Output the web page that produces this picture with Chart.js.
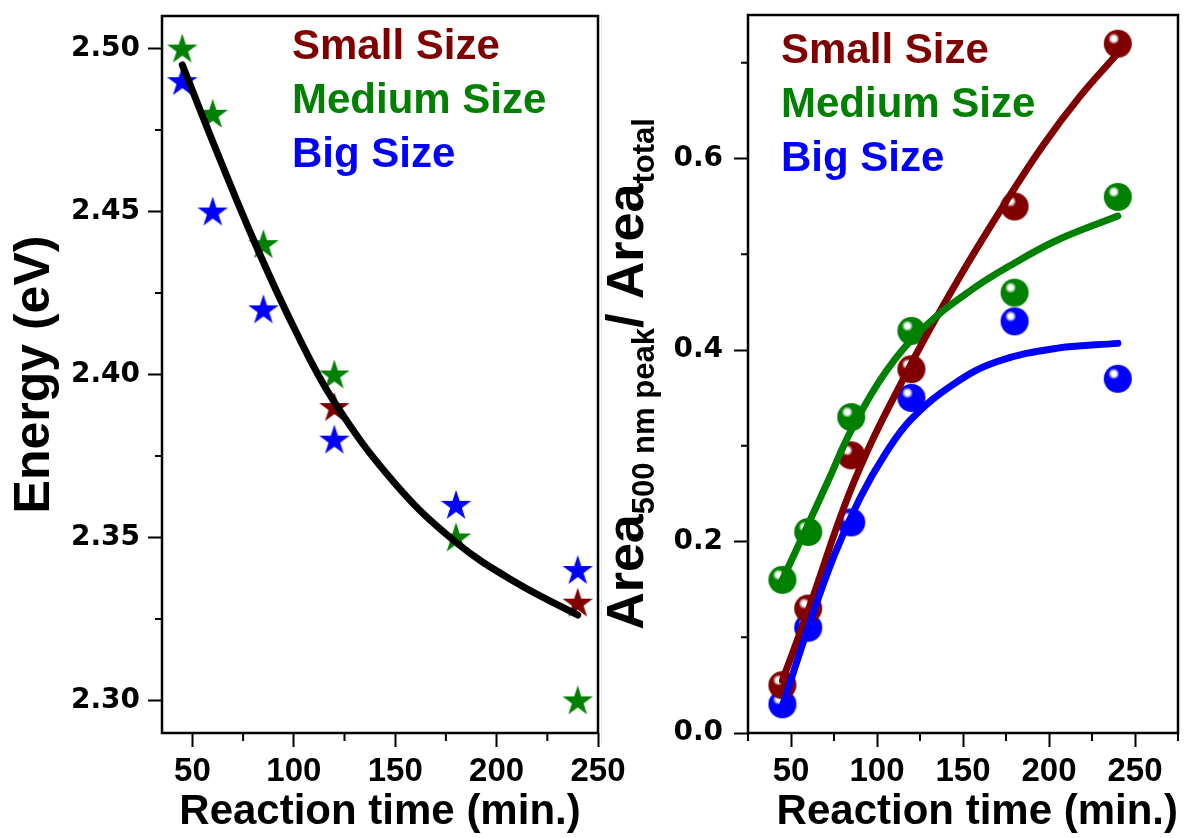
<!DOCTYPE html>
<html>
<head>
<meta charset="utf-8">
<script src="https://cdn.jsdelivr.net/npm/chart.js@4.4.1/dist/chart.umd.min.js"></script>
<style>
  html, body { margin: 0; padding: 0; background: #fff; }
  #wrap { position: relative; width: 1193px; height: 838px; overflow: hidden; background: #fff; }
  canvas { position: absolute; top: 0; }
  #graficoEnergia { left: 0; }
  #graficoArea { left: 600px; }
  #borde { position: absolute; left: 601px; top: 15px; width: 1px; height: 730px; background: #e4e4e4; }
</style>
</head>
<body>
<div id="wrap">
  <div id="borde"></div>
  <canvas id="graficoEnergia" width="640" height="838"></canvas>
  <canvas id="graficoArea" width="593" height="838"></canvas>
</div>
<script>
// tiempos de reaccion (min.)
const tiempos = [45, 60, 85, 120, 180, 240];
const nombresSeries = ["Small Size", "Medium Size", "Big Size"];
const colores = ["#800000", "#008000", "#0000ff"];

// panel izquierdo: energia (eV)
const energiaSmallX = [120, 240];
const energiaSmall = [2.39, 2.33];
const energiaMedium = [2.50, 2.48, 2.44, 2.40, 2.35, 2.30];
const energiaBig = [2.49, 2.45, 2.42, 2.38, 2.36, 2.34];
const ajusteEnergiaX = [45, 60, 80, 100, 120, 150, 180, 210, 240];
const ajusteEnergiaY = [2.495, 2.4715, 2.4415, 2.4145, 2.3915, 2.3665, 2.3485, 2.336, 2.3262];

// panel derecho: area 500 nm / area total
const areaSmall = [0.05, 0.13, 0.29, 0.38, 0.55, 0.72];
const areaMedium = [0.16, 0.21, 0.33, 0.42, 0.46, 0.56];
const areaBig = [0.03, 0.11, 0.22, 0.35, 0.43, 0.37];
const ajusteSmallX = [45, 60, 87, 120, 148, 175, 197, 218, 240];
const ajusteSmallY = [0.055, 0.128, 0.264, 0.386, 0.476, 0.555, 0.615, 0.665, 0.71];
const ajusteMediumX = [45, 60, 72, 85, 105, 127, 155, 180, 205, 240];
const ajusteMediumY = [0.16, 0.218, 0.265, 0.316, 0.377, 0.423, 0.463, 0.491, 0.515, 0.54];
const ajusteBigX = [45, 60, 75, 90, 105, 120, 145, 170, 205, 240];
const ajusteBigY = [0.028, 0.11, 0.185, 0.245, 0.292, 0.328, 0.365, 0.388, 0.402, 0.407];

// marcas de los ejes
const ticksTiempo = [50, 100, 150, 200, 250];
const ticksEnergia = [2.30, 2.35, 2.40, 2.45, 2.50];
const ticksArea = [0.0, 0.2, 0.4, 0.6];
const menoresTiempoIzq = [75, 125, 175, 225];
const menoresEnergia = [2.325, 2.375, 2.425, 2.475];
const menoresTiempoDer = [25, 75, 125, 175, 225, 275];
const menoresArea = [0.1, 0.3, 0.5, 0.7];

const FUENTE = "'Liberation Sans', Arial, sans-serif";
const FUENTE_TICKS = "'DejaVu Sans', sans-serif";

function pares(xs, ys) {
    return xs.map((x, i) => ({ x: x, y: ys[i] }));
}

// estrella rellena de 5 puntas (como Origin)
function crearEstrella(color) {
    const c = document.createElement("canvas");
    c.width = 34;
    c.height = 34;
    const ctx = c.getContext("2d");
    const R = 16, r = 16 * 0.382;
    ctx.beginPath();
    for (let i = 0; i < 10; i++) {
        const rad = i % 2 === 0 ? R : r;
        const ang = -Math.PI / 2 + i * Math.PI / 5;
        const px = 17 + rad * Math.cos(ang);
        const py = 18 + rad * Math.sin(ang);
        if (i === 0) ctx.moveTo(px, py); else ctx.lineTo(px, py);
    }
    ctx.closePath();
    ctx.fillStyle = color;
    ctx.fill();
    return c;
}

// esfera con brillo
function crearEsfera(color) {
    const c = document.createElement("canvas");
    c.width = 30;
    c.height = 30;
    const ctx = c.getContext("2d");
    const g = ctx.createRadialGradient(11, 10, 0, 11, 10, 8);
    g.addColorStop(0, "#ffffff");
    g.addColorStop(0.3, "rgba(255,255,255,0.8)");
    g.addColorStop(0.7, color);
    g.addColorStop(1, color);
    ctx.beginPath();
    ctx.arc(15, 15, 14, 0, Math.PI * 2);
    ctx.fillStyle = g;
    ctx.fill();
    return c;
}

const estrellas = colores.map(crearEstrella);
const esferas = colores.map(crearEsfera);

// marco, marcas menores y leyenda de texto
const marcoPlugin = {
    id: "marco",
    afterDraw(chart, args, opts) {
        const ctx = chart.ctx;
        const a = chart.chartArea;
        ctx.save();
        ctx.strokeStyle = "#000";
        ctx.lineWidth = 2.5;
        ctx.strokeRect(a.left, a.top, a.right - a.left, a.bottom - a.top);

        ctx.lineWidth = 2;
        ctx.beginPath();
        opts.menoresX.forEach(v => {
            const px = chart.scales.x.getPixelForValue(v);
            ctx.moveTo(px, a.bottom);
            ctx.lineTo(px, a.bottom + 8);
        });
        opts.menoresY.forEach(v => {
            const py = chart.scales.y.getPixelForValue(v);
            ctx.moveTo(a.left - 7, py);
            ctx.lineTo(a.left, py);
        });
        ctx.stroke();

        ctx.font = "bold " + opts.leyendaFuente + "px " + FUENTE;
        ctx.textAlign = "left";
        ctx.textBaseline = "alphabetic";
        nombresSeries.forEach((n, i) => {
            ctx.fillStyle = colores[i];
            ctx.fillText(n, a.left + opts.leyendaX, a.top + opts.leyendaY + i * 54);
        });
        ctx.restore();
    }
};

// titulo del eje y derecho con subindices
const tituloAreaPlugin = {
    id: "tituloArea",
    afterDraw(chart) {
        const ctx = chart.ctx;
        const a = chart.chartArea;
        const partes = [
            { t: "Area", s: 52, dy: 0 },
            { t: "500 nm peak", s: 31, dy: 11 },
            { t: "/ Area", s: 52, dy: 0 },
            { t: "total", s: 31, dy: 11 }
        ];
        ctx.save();
        let total = 0;
        partes.forEach(p => {
            ctx.font = "bold " + p.s + "px " + FUENTE;
            p.w = ctx.measureText(p.t).width;
            total += p.w;
        });
        ctx.translate(43, (a.top + a.bottom) / 2);
        ctx.rotate(-Math.PI / 2);
        ctx.fillStyle = "#000";
        ctx.textBaseline = "alphabetic";
        ctx.textAlign = "left";
        let x = -total / 2;
        partes.forEach(p => {
            ctx.font = "bold " + p.s + "px " + FUENTE;
            ctx.fillText(p.t, x, p.dy);
            x += p.w;
        });
        ctx.restore();
    }
};

const marcasEje = { display: true, drawOnChartArea: false, drawTicks: true, tickLength: 14, tickWidth: 2, tickColor: "#000" };

function curvaAjuste(etiqueta, xs, ys, color, orden) {
    return {
        type: "line",
        label: etiqueta,
        data: pares(xs, ys),
        borderColor: color,
        borderWidth: 7,
        borderCapStyle: "round",
        pointRadius: 0,
        tension: 0.4,
        fill: false,
        order: orden
    };
}

// GRAFICO IZQUIERDO: ENERGIA
new Chart(document.getElementById("graficoEnergia"), {
    type: "scatter",
    data: {
        datasets: [
            curvaAjuste("ajuste", ajusteEnergiaX, ajusteEnergiaY, "#000", 0),
            { label: nombresSeries[0], data: pares(energiaSmallX, energiaSmall), pointStyle: estrellas[0], pointRadius: 15, order: 1 },
            { label: nombresSeries[1], data: pares(tiempos, energiaMedium), pointStyle: estrellas[1], pointRadius: 15, order: 1 },
            { label: nombresSeries[2], data: pares(tiempos, energiaBig), pointStyle: estrellas[2], pointRadius: 15, order: 1 }
        ]
    },
    options: {
        responsive: false,
        animation: false,
        layout: { padding: { top: 14, right: 42, left: 0, bottom: 0 } },
        plugins: {
            legend: { display: false },
            tooltip: { enabled: false },
            marco: { menoresX: menoresTiempoIzq, menoresY: menoresEnergia, leyendaFuente: 42, leyendaX: 130, leyendaY: 43 }
        },
        scales: {
            x: {
                type: "linear",
                min: 35,
                max: 250,
                afterBuildTicks: s => { s.ticks = ticksTiempo.map(v => ({ value: v })); },
                afterFit: s => { s.height = 105; s.paddingLeft = 0; s.paddingRight = 0; },
                grid: marcasEje,
                border: { display: false },
                ticks: { color: "#000", padding: 5, font: { family: FUENTE, size: 33, weight: "bold" }, callback: v => String(v) },
                title: { display: true, text: "Reaction time (min.)", color: "#000", font: { family: FUENTE, size: 42, weight: "bold" }, padding: { top: 0, bottom: 0 } }
            },
            y: {
                type: "linear",
                min: 2.29,
                max: 2.51,
                afterBuildTicks: s => { s.ticks = ticksEnergia.map(v => ({ value: v })); },
                afterFit: s => { s.width = 162; s.paddingTop = 0; s.paddingBottom = 0; },
                grid: marcasEje,
                border: { display: false },
                ticks: { color: "#000", padding: 8, font: { family: FUENTE_TICKS, size: 28, weight: "bold" }, callback: v => v.toFixed(2) },
                title: { display: true, text: "Energy (eV)", color: "#000", font: { family: FUENTE, size: 50, weight: "bold" }, padding: { top: 5, bottom: 0 } }
            }
        }
    },
    plugins: [marcoPlugin]
});

// GRAFICO DERECHO: AREA 500 nm / AREA TOTAL
new Chart(document.getElementById("graficoArea"), {
    type: "scatter",
    data: {
        datasets: [
            curvaAjuste("ajuste big", ajusteBigX, ajusteBigY, colores[2], 0),
            curvaAjuste("ajuste medium", ajusteMediumX, ajusteMediumY, colores[1], 1),
            curvaAjuste("ajuste small", ajusteSmallX, ajusteSmallY, colores[0], 2),
            { label: nombresSeries[0], data: pares(tiempos, areaSmall), pointStyle: esferas[0], pointRadius: 14, order: 3 },
            { label: nombresSeries[1], data: pares(tiempos, areaMedium), pointStyle: esferas[1], pointRadius: 14, order: 3 },
            { label: nombresSeries[2], data: pares(tiempos, areaBig), pointStyle: esferas[2], pointRadius: 14, order: 3 }
        ]
    },
    options: {
        responsive: false,
        animation: false,
        layout: { padding: { top: 14, right: 7, left: 0, bottom: 0 } },
        plugins: {
            legend: { display: false },
            tooltip: { enabled: false },
            marco: { menoresX: menoresTiempoDer, menoresY: menoresArea, leyendaFuente: 42, leyendaX: 33, leyendaY: 48 }
        },
        scales: {
            x: {
                type: "linear",
                min: 25,
                max: 275,
                afterBuildTicks: s => { s.ticks = ticksTiempo.map(v => ({ value: v })); },
                afterFit: s => { s.height = 105; s.paddingLeft = 0; s.paddingRight = 0; },
                grid: marcasEje,
                border: { display: false },
                ticks: { color: "#000", padding: 5, font: { family: FUENTE, size: 33, weight: "bold" }, callback: v => String(v) },
                title: { display: true, align: "end", text: "Reaction time (min.)", color: "#000", font: { family: FUENTE, size: 42, weight: "bold" }, padding: { top: 0, bottom: 0 } }
            },
            y: {
                type: "linear",
                min: 0,
                max: 0.75,
                afterBuildTicks: s => { s.ticks = ticksArea.map(v => ({ value: v })); },
                afterFit: s => { s.width = 148; s.paddingTop = 0; s.paddingBottom = 0; },
                grid: marcasEje,
                border: { display: false },
                ticks: { color: "#000", padding: 11, font: { family: FUENTE_TICKS, size: 28, weight: "bold" }, callback: v => v.toFixed(1) },
                title: { display: false }
            }
        }
    },
    plugins: [marcoPlugin, tituloAreaPlugin]
});
</script>
</body>
</html>
